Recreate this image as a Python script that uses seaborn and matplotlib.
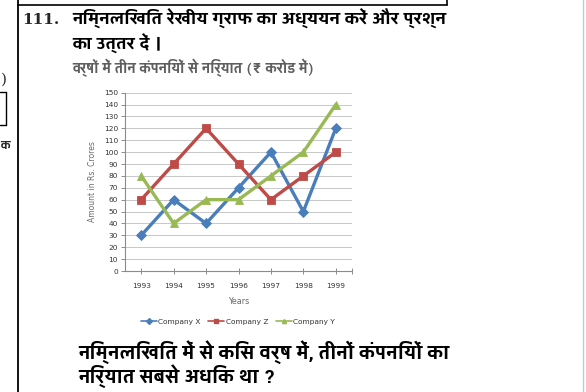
import matplotlib
matplotlib.use("Agg")
import matplotlib.pyplot as plt
import seaborn as sns
import pandas as pd
from matplotlib.lines import Line2D

years = [1993, 1994, 1995, 1996, 1997, 1998, 1999]
company_x = [30, 60, 40, 70, 100, 50, 120]
company_z = [60, 90, 120, 90, 60, 80, 100]
company_y = [80, 40, 60, 60, 80, 100, 140]
series_names = ["Company X", "Company Z", "Company Y"]
yticks = list(range(0, 151, 10))

heading1 = "निम्नलिखित रेखीय ग्राफ का अध्ययन करें और प्रश्न"
heading2 = "का उत्तर दें ।"
chart_title = "वर्षों में तीन कंपनियों से निर्यात (₹ करोड में)"
question1 = "निम्नलिखित में से किस वर्ष में, तीनों कंपनियों का"
question2 = "निर्यात सबसे अधिक था ?"

df = pd.DataFrame({
    "Year": years * 3,
    "Amount": company_x + company_z + company_y,
    "Company": [series_names[0]] * 7 + [series_names[1]] * 7 + [series_names[2]] * 7,
})

sns.set_theme(style="white")
plt.rcParams["font.family"] = ["DejaVu Sans"]
HI = ["Yantramanav", "Noto Sans Devanagari", "DejaVu Sans"]

W, H = 586, 392
fig = plt.figure(figsize=(W / 100, H / 100), dpi=100)
fig.patch.set_facecolor("white")

def fx(px):
    return px / W

def fy(py):
    return 1 - py / H

ax = fig.add_axes([fx(125), fy(271), fx(352) - fx(125), fy(92.7) - fy(271)])

palette = {"Company X": "#4a7ebb", "Company Z": "#be4b48", "Company Y": "#98b954"}
markers = {"Company X": "D", "Company Z": "s", "Company Y": "^"}

sns.lineplot(data=df, x="Year", y="Amount", hue="Company", style="Company",
             palette=palette, markers=markers, dashes=False, linewidth=2.4,
             markersize=6, markeredgewidth=0.6, ax=ax, legend=False)
for line in ax.get_lines():
    line.set_markeredgecolor(line.get_color())
    if line.get_marker() == "D":
        line.set_markersize(5)

ax.set_xlim(1992.5, 1999.5)
ax.set_ylim(0, 150)
ax.set_yticks(yticks)
ax.set_xticks(years)
ax.set_xticks([1999.5], minor=True)
ax.grid(axis="y", color="#c8c8c8", linewidth=0.7)
ax.grid(axis="x", visible=False)
for s in ["top", "right"]:
    ax.spines[s].set_visible(False)
for s in ["left", "bottom"]:
    ax.spines[s].set_color("#8c8c8c")
    ax.spines[s].set_linewidth(0.8)
ax.tick_params(axis="x", which="both", direction="inout", length=5, width=0.7,
               color="#8c8c8c", labelsize=5.3, labelcolor="#333333", pad=6, bottom=True)
ax.tick_params(axis="y", direction="out", length=3, width=0.7, color="#8c8c8c",
               labelsize=5.3, labelcolor="#333333", pad=2, left=True)
ax.set_xlabel("Years", fontsize=5.8, color="#6a6a6a", labelpad=6)
ax.set_ylabel("Amount in Rs. Crores", fontsize=5.5, color="#6a6a6a", labelpad=5)

handles = [Line2D([0], [0], color=palette[n], marker=markers[n], markersize=3,
                  linewidth=1.2, label=n) for n in series_names]
fig.legend(handles=handles, loc="center", bbox_to_anchor=(fx(238), fy(322)), ncol=3,
           frameon=False, fontsize=5.3, handlelength=2.2, handletextpad=0.2,
           columnspacing=1.0, labelcolor="#333333")

renderer = fig.canvas.get_renderer()

def fitted(x0, x1, y, s, fs, weight, color="black", partners=()):
    t = fig.text(fx(x0), fy(y), s, fontsize=fs, fontweight=weight, family=HI,
                 color=color, va="center", ha="left")
    w = t.get_window_extent(renderer).width
    new_fs = fs * (x1 - x0) / w
    t.set_fontsize(new_fs)
    for (py, ps) in partners:
        fig.text(fx(x0), fy(py), ps, fontsize=new_fs, fontweight=weight, family=HI,
                 color=color, va="center", ha="left")
    return t

# page text
fig.text(fx(22), fy(20), "111.", fontsize=11, fontweight="bold", family="DejaVu Serif",
         va="center", ha="left")
fitted(72, 447, 19, heading1, 14, "bold", partners=[(44, heading2)])
fig.text(fx(72), fy(68), chart_title, fontsize=10.5, fontweight="bold", family=HI,
         color="#5e5e5e", va="center", ha="left")
fitted(78, 450, 352, question1, 14, "bold", partners=[(376, question2)])

# page frame lines
fig.add_artist(Line2D([fx(18), fx(18)], [0, 1], color="black", linewidth=1.3))
fig.add_artist(Line2D([fx(18), fx(447)], [fy(5), fy(5)], color="black", linewidth=1.2))
fig.add_artist(Line2D([fx(447), fx(447)], [fy(5), 1], color="black", linewidth=1.2))
fig.add_artist(Line2D([fx(583), fx(583)], [0, 1], color="#c8c8c8", linewidth=1.0))
fig.add_artist(Line2D([0, fx(6)], [fy(92), fy(92)], color="black", linewidth=1.0))
fig.add_artist(Line2D([0, fx(6)], [fy(125), fy(125)], color="black", linewidth=1.0))
fig.add_artist(Line2D([fx(6), fx(6)], [fy(92), fy(125)], color="black", linewidth=1.0))
fig.text(fx(1), fy(80), ")", fontsize=11, family="DejaVu Serif", va="center", ha="left")
fig.text(fx(0.5), fy(146), "क", fontsize=9, fontweight="bold", family=HI,
         va="center", ha="left")

fig.savefig("out.png", dpi=100, facecolor="white")
